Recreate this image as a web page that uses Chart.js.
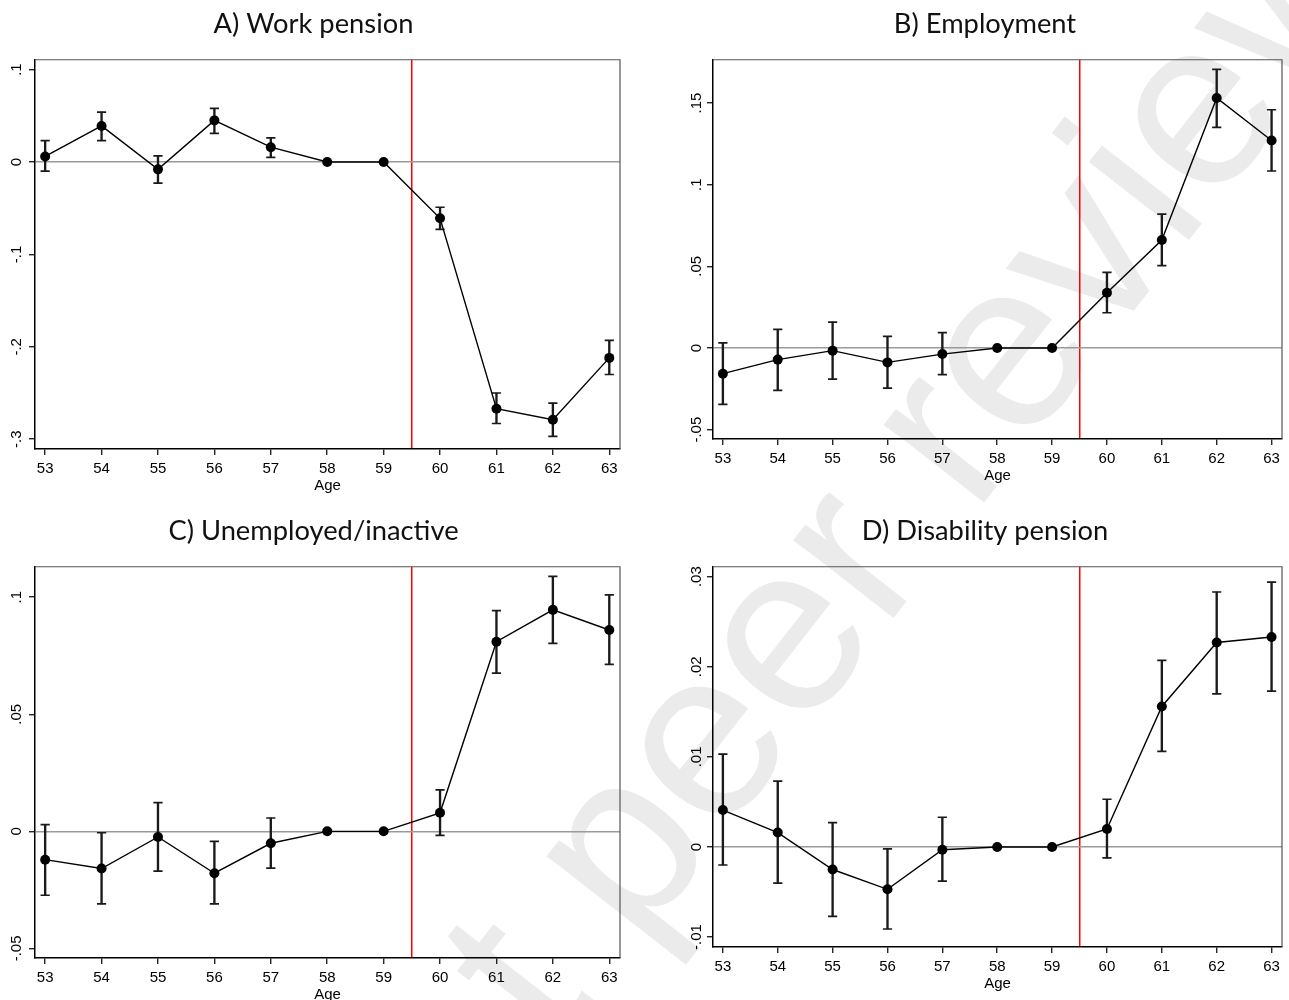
<!DOCTYPE html>
<html>
<head>
<meta charset="utf-8">
<script src="https://cdn.jsdelivr.net/npm/chart.js@4.4.1/dist/chart.umd.min.js"></script>
<style>
html, body { margin: 0; padding: 0; background: #fff; overflow: hidden; }
#page { position: relative; width: 1289px; height: 1000px; overflow: hidden; }
canvas { position: absolute; z-index: 2; }
#wm {
  position: absolute; left: 900px; top: 475px; z-index: 1;
  font-family: "Liberation Sans", Arial, sans-serif; font-size: 240px;
  color: #ebebeb; white-space: nowrap; line-height: 1;
  transform: translate(-50%, -50%) rotate(-52deg);
}
</style>
</head>
<body>
<div id="page">
  <div id="wm">Not peer reviewed</div>
  <canvas id="chartA" width="640" height="500" style="left:0;top:0"></canvas>
  <canvas id="chartB" width="644" height="490" style="left:645px;top:0"></canvas>
  <canvas id="chartC" width="640" height="502" style="left:0;top:507px"></canvas>
  <canvas id="chartD" width="644" height="491" style="left:645px;top:507px"></canvas>
</div>
<script>
// ages and the retirement-age cutoff
const ages = [53, 54, 55, 56, 57, 58, 59, 60, 61, 62, 63];
const cutoff = 59.5;
const xRange = [52.82, 63.19];

// A) Work pension
const workEst = [0.006, 0.039, -0.008, 0.045, 0.016, 0, 0, -0.061, -0.267, -0.279, -0.212];
const workLo  = [-0.010, 0.023, -0.023, 0.031, 0.005, null, null, -0.073, -0.283, -0.297, -0.230];
const workHi  = [0.023, 0.054, 0.0065, 0.058, 0.026, null, null, -0.049, -0.250, -0.261, -0.193];
const workTicks = [-0.3, -0.2, -0.1, 0, 0.1];
const workRange = [-0.3106, 0.1106];

// B) Employment
const empEst = [-0.0157, -0.0071, -0.0016, -0.0088, -0.0037, 0, 0, 0.0339, 0.0661, 0.1531, 0.1271];
const empLo  = [-0.0345, -0.0259, -0.019, -0.0245, -0.0163, null, null, 0.0216, 0.0504, 0.1351, 0.1084];
const empHi  = [0.0031, 0.0114, 0.0159, 0.0071, 0.0094, null, null, 0.0463, 0.082, 0.1706, 0.1459];
const empTicks = [-0.05, 0, 0.05, 0.1, 0.15];
const empRange = [-0.0557, 0.1765];

// C) Unemployed/inactive
const unempEst = [-0.0121, -0.0159, -0.0024, -0.0179, -0.0051, 0, 0, 0.0079, 0.081, 0.0946, 0.086];
const unempLo  = [-0.0273, -0.031, -0.017, -0.031, -0.0157, null, null, -0.0017, 0.0676, 0.0803, 0.0713];
const unempHi  = [0.0029, -0.0006, 0.0123, -0.0043, 0.0057, null, null, 0.0177, 0.0943, 0.1089, 0.101];
const unempTicks = [-0.05, 0, 0.05, 0.1];
const unempRange = [-0.0541, 0.113];

// D) Disability pension
const disEst = [0.0041, 0.0016, -0.0025, -0.0047, -0.0003, 0, 0, 0.002, 0.0156, 0.0227, 0.0233];
const disLo  = [-0.002, -0.004, -0.0077, -0.0091, -0.0038, null, null, -0.0012, 0.0106, 0.017, 0.0173];
const disHi  = [0.0103, 0.0073, 0.0027, -0.0002, 0.0033, null, null, 0.0053, 0.0207, 0.0283, 0.0294];
const disTicks = [-0.01, 0, 0.01, 0.02, 0.03];
const disRange = [-0.0111, 0.0311];

const tickFont = { family: "'Liberation Sans', Arial, sans-serif", size: 15 };
const clear = 'rgba(0,0,0,0)';

// stata style labels: .1, -.05, 0
function yLabel(v) {
  return v === 0 ? '0' : String(v).replace(/^(-?)0\./, '$1.');
}

// top and right edges of the plot region
const framePlugin = {
  id: 'frame',
  afterDatasetsDraw(chart) {
    const a = chart.chartArea, c = chart.ctx;
    c.save();
    c.strokeStyle = '#555';
    c.lineWidth = 1.2;
    c.beginPath();
    c.moveTo(a.left, a.top);
    c.lineTo(a.right, a.top);
    c.lineTo(a.right, a.bottom);
    c.stroke();
    c.restore();
  }
};

function panel(id, title, est, lo, hi, yTicks, yRange, box) {
  const withCi = ages.map((a, i) => i).filter(i => lo[i] != null);
  new Chart(document.getElementById(id), {
    type: 'line',
    data: {
      datasets: [
        {
          type: 'line',
          data: ages.map((a, i) => ({ x: a, y: est[i] })),
          borderColor: '#000',
          borderWidth: 1.4,
          pointRadius: 5,
          pointBackgroundColor: '#000',
          pointBorderWidth: 0,
          tension: 0,
          order: 0
        },
        {
          type: 'bar',
          data: withCi.map(i => ({ x: ages[i], y: [lo[i], hi[i]] })),
          backgroundColor: '#1a1a1a',
          barThickness: 1.7,
          order: 1
        },
        {
          type: 'scatter',
          data: withCi.map(i => ({ x: ages[i], y: lo[i] })).concat(withCi.map(i => ({ x: ages[i], y: hi[i] }))),
          pointStyle: 'line',
          pointRadius: 4.6,
          pointBorderColor: '#1a1a1a',
          pointBorderWidth: 1.7,
          order: 2
        }
      ]
    },
    options: {
      responsive: false,
      animation: false,
      layout: { padding: { left: box.pl, right: box.pr, top: 0, bottom: 0 } },
      plugins: {
        legend: { display: false },
        tooltip: { enabled: false },
        title: {
          display: true,
          text: title,
          color: '#111',
          font: { family: 'Lato, sans-serif', size: 27.3, weight: 'normal', lineHeight: 1.2 },
          padding: { top: 8, bottom: 19 }
        }
      },
      scales: {
        x: {
          type: 'linear',
          min: xRange[0],
          max: xRange[1],
          offset: false,
          afterBuildTicks: s => { s.ticks = ages.concat([cutoff]).sort((a, b) => a - b).map(v => ({ value: v })); },
          afterFit: s => { s.height = 51; },
          ticks: {
            autoSkip: false,
            maxRotation: 0,
            padding: 5,
            color: '#000',
            font: tickFont,
            callback: v => (v === cutoff ? '' : String(v))
          },
          grid: {
            offset: false,
            color: c => (c.tick && c.tick.value === cutoff ? '#ff0000' : clear),
            lineWidth: 1.5,
            tickLength: 6,
            tickWidth: 1.2,
            tickColor: c => (c.tick && c.tick.value === cutoff ? clear : '#000')
          },
          border: { color: '#000', width: 1.5 },
          title: { display: true, text: 'Age', color: '#000', font: tickFont, padding: { top: 0, bottom: 5 } }
        },
        y: {
          type: 'linear',
          min: yRange[0],
          max: yRange[1],
          afterBuildTicks: s => { s.ticks = yTicks.map(v => ({ value: v })); },
          afterFit: s => { s.width = box.yw; },
          ticks: {
            minRotation: 90,
            maxRotation: 90,
            crossAlign: 'center',
            padding: box.yp,
            color: '#000',
            font: tickFont,
            callback: v => yLabel(v)
          },
          grid: {
            color: c => (c.tick && c.tick.value === 0 ? '#9a9a9a' : clear),
            lineWidth: 1.5,
            tickLength: 6,
            tickWidth: 1.2,
            tickColor: '#000'
          },
          border: { color: '#000', width: 1.5 }
        }
      }
    },
    plugins: [framePlugin]
  });
}

panel('chartA', 'A) Work pension', workEst, workLo, workHi, workTicks, workRange, { pl: 7, pr: 20, yw: 28, yp: 3 });
panel('chartB', 'B) Employment', empEst, empLo, empHi, empTicks, empRange, { pl: 43, pr: 7, yw: 25, yp: -3 });
panel('chartC', 'C) Unemployed/inactive', unempEst, unempLo, unempHi, unempTicks, unempRange, { pl: 7, pr: 20, yw: 28, yp: -1 });
panel('chartD', 'D) Disability pension', disEst, disLo, disHi, disTicks, disRange, { pl: 43, pr: 7, yw: 25, yp: -2.6 });
</script>
</body>
</html>
